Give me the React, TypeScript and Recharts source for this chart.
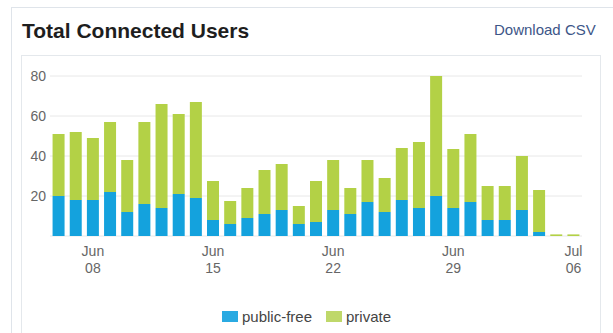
import React from 'react';
import { BarChart, Bar, XAxis, YAxis, CartesianGrid } from 'recharts';

const days = [
  'Jun 06', 'Jun 07', 'Jun 08', 'Jun 09', 'Jun 10', 'Jun 11', 'Jun 12', 'Jun 13', 'Jun 14',
  'Jun 15', 'Jun 16', 'Jun 17', 'Jun 18', 'Jun 19', 'Jun 20', 'Jun 21', 'Jun 22', 'Jun 23',
  'Jun 24', 'Jun 25', 'Jun 26', 'Jun 27', 'Jun 28', 'Jun 29', 'Jun 30', 'Jul 01', 'Jul 02',
  'Jul 03', 'Jul 04', 'Jul 05', 'Jul 06',
];
const publicFree = [
  20, 18, 18, 22, 12, 16, 14, 21, 19, 8, 6, 9, 11, 13, 6, 7,
  13, 11, 17, 12, 18, 14, 20, 14, 17, 8, 8, 13, 2, 0, 0,
];
const privateUsers = [
  31, 34, 31, 35, 26, 41, 52, 40, 48, 19.5, 11.5, 15, 22, 23, 9, 20.5,
  25, 13, 21, 17, 26, 33, 60, 29.5, 34, 17, 17, 27, 21, 0.8, 0.8,
];
const labeledDays = ['Jun 08', 'Jun 15', 'Jun 22', 'Jun 29', 'Jul 06'];
const yTicks = [20, 40, 60, 80];

const BLUE = '#14a2dd';
const GREEN = '#b3d146';

const data = days.map((d, i) => ({ day: d, publicFree: publicFree[i], private: privateUsers[i] }));

const DayTick = (props: any) => {
  const { x, y, payload } = props;
  const v: string = payload.value;
  if (!labeledDays.includes(v)) return null;
  const [m, d] = v.split(' ');
  return (
    <text x={x} y={y} textAnchor="middle" fill="#666" fontSize={14} fontFamily="Liberation Sans, Arial, sans-serif">
      <tspan x={x} dy={20}>{m}</tspan>
      <tspan x={x} dy={17}>{d}</tspan>
    </text>
  );
};

export default function App() {
  return (
    <div style={{ position: 'absolute', left: 0, top: 0, width: 613, height: 333, overflow: 'hidden', background: '#fff', fontFamily: 'Liberation Sans, Arial, sans-serif' }}>
      <div style={{ position: 'absolute', left: 11, top: 7, width: 640, height: 400, border: '1px solid #dfe4ea', boxSizing: 'border-box' }} />
      <div style={{ position: 'absolute', left: 21, top: 55, width: 580, height: 400, border: '1px solid #e4e8ec', boxSizing: 'border-box' }} />
      <div style={{ position: 'absolute', left: 22, top: 19, fontSize: 21, fontWeight: 'bold', color: '#1e1e1e', whiteSpace: 'nowrap' }}>Total Connected Users</div>
      <div style={{ position: 'absolute', left: 494, top: 21, fontSize: 15, color: '#3d5688', whiteSpace: 'nowrap' }}>Download CSV</div>
      <div style={{ position: 'absolute', left: 0, top: 0 }}>
        <BarChart width={613} height={333} data={data} margin={{ top: 76, right: 31, left: 10, bottom: 52 }} barCategoryGap="15%">
          <CartesianGrid vertical={false} stroke="#e8e8e8" />
          <XAxis dataKey="day" interval={0} tick={<DayTick />} axisLine={false} tickLine={false} tickSize={0} tickMargin={0} height={45} />
          <YAxis domain={[0, 80]} ticks={yTicks} axisLine={false} tickLine={false} tickSize={0} tickMargin={4} width={40} tick={{ fill: '#666', fontSize: 14, fontFamily: 'Liberation Sans, Arial, sans-serif' }} />
          <Bar dataKey="publicFree" stackId="a" fill={BLUE} isAnimationActive={false} />
          <Bar dataKey="private" stackId="a" fill={GREEN} isAnimationActive={false} />
        </BarChart>
      </div>
      <div style={{ position: 'absolute', left: 0, top: 308, width: 613, display: 'flex', justifyContent: 'center', alignItems: 'center', fontSize: 15, color: '#444' }}>
        <span style={{ display: 'inline-block', width: 16, height: 11, background: '#2aaae2', marginRight: 4 }} />
        <span style={{ marginRight: 14 }}>public-free</span>
        <span style={{ display: 'inline-block', width: 16, height: 11, background: '#bfd86a', marginRight: 4 }} />
        <span>private</span>
      </div>
    </div>
  );
}
